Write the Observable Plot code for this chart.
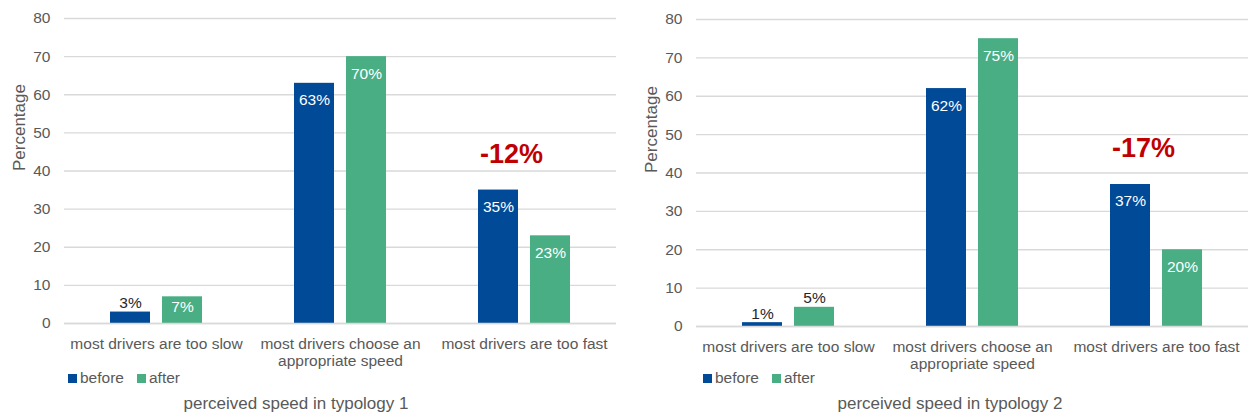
<!DOCTYPE html>
<html>
<head>
<meta charset="utf-8">
<script src="https://cdn.jsdelivr.net/npm/d3@7"></script>
<script src="https://cdn.jsdelivr.net/npm/@observablehq/plot@0.6"></script>
<style>
  html, body { margin: 0; padding: 0; background: #fff; }
  body { font-family: "Liberation Sans", Arial, sans-serif; }
  #wrap { position: relative; width: 1250px; height: 417px; overflow: hidden; }
  .panel { position: absolute; top: 0; }
  .panel svg { display: block; }
  .legend { position: absolute; top: 368px; height: 20px; display: flex; align-items: center; }
  .legend .lg-swatches { font-family: "Liberation Sans", Arial, sans-serif; font-size: 15.5px; color: #595959; min-height: 0; margin: 0; }
  .legend .lg-swatch { margin-right: 13px !important; }
  .legend .lg-swatch > svg { margin-right: 3px !important; }
  .title { position: absolute; top: 394px; line-height: 20px; font-size: 17px; color: #595959; white-space: nowrap; transform: translateX(-50%); }
</style>
</head>
<body>
<div id="wrap"></div>
<script>
// Categories, series and values for the two surveys
const categories = [
  "most drivers are too slow",
  "most drivers choose an appropriate speed",
  "most drivers are too fast"
];
const series = ["before", "after"];
const typology1Before = [3, 63, 35];
const typology1After = [7, 70, 23];
const typology2Before = [1, 62, 37];
const typology2After = [5, 75, 20];
const yTicks = [0, 10, 20, 30, 40, 50, 60, 70, 80];
const yTitle = "Percentage";
const titles = ["perceived speed in typology 1", "perceived speed in typology 2"];
const colors = ["#004a98", "#49ae84"];

const font = "\"Liberation Sans\", Arial, sans-serif";
const gray = "#595959";
const svgHeight = 384;

function rows(before, after) {
  const out = [];
  categories.forEach((c, i) => {
    out.push({category: c, series: "before", value: before[i]});
    out.push({category: c, series: "after", value: after[i]});
  });
  return out;
}

function chart(before, after, cfg) {
  const data = rows(before, after);
  // change from before to after for the "too fast" group
  const last = categories.length - 1;
  const delta = [{
    category: categories[last],
    value: before[last],
    text: (after[last] - before[last]) + "%"
  }];
  return Plot.plot({
    width: cfg.width,
    height: svgHeight,
    marginTop: cfg.marginTop,
    marginBottom: svgHeight - cfg.baseline,
    marginLeft: cfg.marginLeft,
    marginRight: cfg.marginRight,
    style: {fontFamily: font, fontSize: "15.5px", color: gray, background: "transparent"},
    fx: {domain: categories, padding: 0, label: null},
    x: {domain: series, paddingInner: 0.226, paddingOuter: 0.855, axis: null},
    y: {domain: [0, 80], label: null},
    color: {domain: series, range: colors},
    marks: [
      Plot.gridY(yTicks, {stroke: "#d9d9d9", strokeOpacity: 1, strokeWidth: 1.3}),
      Plot.axisY(yTicks, {
        tickSize: 0, tickPadding: 14, fontSize: 15.5, fill: gray, label: null
      }),
      // vertical axis title, drawn once in the first facet
      Plot.text([{category: categories[0], text: yTitle}], {
        fx: "category", text: "text",
        frameAnchor: "left", rotate: -90, dx: -cfg.titleOffset,
        fill: gray, fontSize: 17
      }),
      Plot.axisFx({
        anchor: "bottom", tickSize: 0, tickPadding: 13, fontSize: 15.5, fill: gray,
        lineHeight: 1.1, label: null,
        tickFormat: d => d.replace(" appropriate", "\nappropriate")
      }),
      Plot.barY(data, {fx: "category", x: "series", y: "value", fill: "series"}),
      Plot.ruleY([0], {stroke: "#d9d9d9", strokeWidth: 1.5}),
      // value labels inside tall bars
      Plot.text(data.filter(d => d.value >= 10), {
        fx: "category", x: "series", y: "value", text: d => d.value + "%",
        dy: 17, fill: "white", fontSize: 15.5
      }),
      // value labels inside short bars
      Plot.text(data.filter(d => d.value >= 6 && d.value < 10), {
        fx: "category", x: "series", y: "value", text: d => d.value + "%",
        dy: 10, fill: "white", fontSize: 15.5
      }),
      // value labels above tiny bars
      Plot.text(data.filter(d => d.value < 6), {
        fx: "category", x: "series", y: "value", text: d => d.value + "%",
        dy: -9, fill: "#262626", fontSize: 15.5
      }),
      Plot.text(delta, {
        fx: "category", y: "value", text: "text",
        dy: -36, dx: -13, fill: "#c00000", fontSize: 27, fontWeight: "bold"
      })
    ]
  });
}

const wrap = document.getElementById("wrap");
const panels = [
  {left: 0, before: typology1Before, after: typology1After,
   cfg: {width: 625, marginTop: 18, baseline: 323, marginLeft: 63, marginRight: 8, titleOffset: 44.5},
   legendLeft: 68, titleCenter: 296},
  {left: 630, before: typology2Before, after: typology2After,
   cfg: {width: 620, marginTop: 19, baseline: 326, marginLeft: 65, marginRight: 2, titleOffset: 45},
   legendLeft: 703, titleCenter: 950}
];

panels.forEach((p, i) => {
  const div = document.createElement("div");
  div.className = "panel";
  div.style.left = p.left + "px";
  div.appendChild(chart(p.before, p.after, p.cfg));
  wrap.appendChild(div);

  const lg = document.createElement("div");
  lg.className = "legend";
  lg.style.left = p.legendLeft + "px";
  lg.appendChild(Plot.legend({
    color: {domain: series, range: colors},
    swatchSize: 9, className: "lg"
  }));
  wrap.appendChild(lg);

  const t = document.createElement("div");
  t.className = "title";
  t.style.left = p.titleCenter + "px";
  t.textContent = titles[i];
  wrap.appendChild(t);
});
</script>
</body>
</html>
